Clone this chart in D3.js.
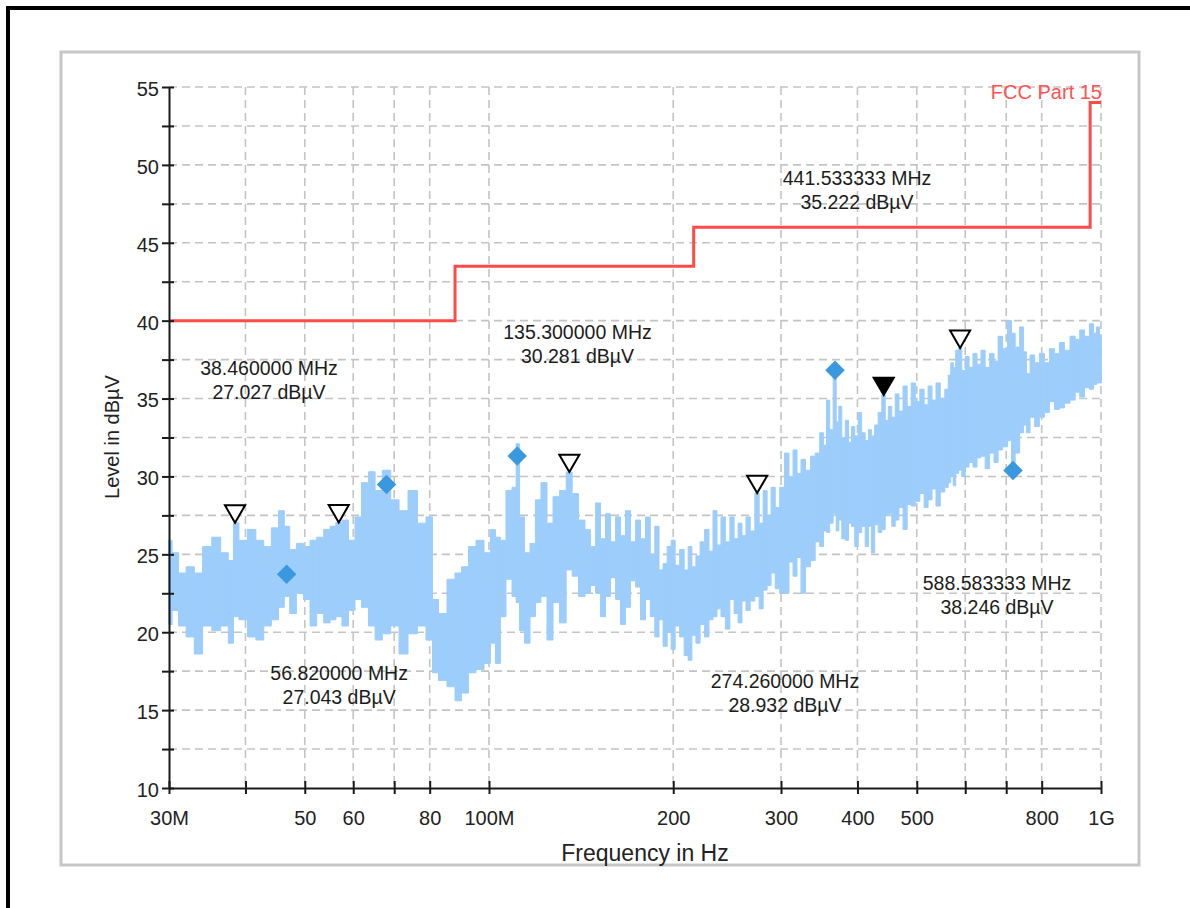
<!DOCTYPE html>
<html><head><meta charset="utf-8">
<script src="https://cdn.jsdelivr.net/npm/d3@7"></script>
<style>html,body{margin:0;padding:0;background:#fff;overflow:hidden;} svg{display:block;}</style>
</head><body>
<svg id="chart" width="1190" height="908"></svg>
<script>
// ---- data ----
const specFreqMHz = [30.0,30.7,31.5,32.5,33.5,34.6,35.9,37.0,38.0,38.46,39.6,41.0,42.2,43.5,44.7,45.9,46.7,47.8,49.1,50.4,51.6,53.0,54.4,55.6,56.82,58.2,59.7,61.1,62.7,64.4,65.9,68.0,70.2,72.4,75.1,77.7,80.1,81.6,83.8,87.0,89.0,91.4,93.8,96.7,99.6,101.5,103.4,105.4,107.8,110.3,111.2,113.2,115.4,118.0,120.2,123.0,125.8,128.7,132.1,135.3,138.2,141.9,145.1,148,150.7,153.5,156.5,159.5,162.5,165.5,168.7,172,175.2,178.5,181.9,185,188.2,191,194.0,197,199.9,203,206.8,210,213.1,216,219.6,223,227.1,230.5,234.1,237.5,241.2,245.5,249.5,253.5,257.1,261,265.0,269.5,274.26,278.5,282.5,287,291.1,296,301.1,306.8,311.5,316.3,321,325.9,332,338.4,344,350.2,354,358.1,362.5,367.6,371,374.7,379.5,384.6,389,393.4,398.5,403.8,409,414.6,419,424.0,429.5,435.3,441.53,446.5,452.2,458,464.2,471,478.6,486,493.2,501.5,510.1,518,525.6,533.5,541.6,551,560.2,565.5,570.9,576,581.8,588.58,596,604.2,613,622.5,632,641.4,652,663.5,674,684.0,697,710.0,718.2,730,742.8,751,759.7,772,786.1,800,816.3,831,847.4,863,880.1,900.0,915,931.2,948,966.8,978,988.9,1000];
const specHi = [25.9,25.1,23.8,24.2,23.8,25.5,26.1,25.1,24.6,27.03,25.9,26.6,25.9,25.5,26.7,27.8,26.8,25.3,25.7,25.5,25.9,26.1,26.6,26.8,27.04,27.2,25.9,27.4,29.6,30.3,29.1,30.4,28.5,27.8,29.1,27.0,27.4,22.1,21.2,23.4,23.8,24.2,25.5,25.9,25.1,26.6,26.1,25.9,29.1,29.3,32.1,27.4,25.1,25.7,28.5,29.6,27.0,28.7,29.1,30.28,28.9,27.2,26.6,25.5,28.3,26.0,27.6,25.8,27.4,26.2,27.8,25.8,27.2,26.0,27.4,25.0,26.8,24.0,24.4,25.5,25.9,24.3,25.3,24.0,25.5,24.2,24.9,25.8,26.6,25.2,27.8,25.6,27.4,25.8,27.4,26.0,27.0,26.2,27.4,26.5,28.93,27.0,29.1,27.5,29.3,28.0,29.3,31.5,30.0,31.7,30.2,31.1,30.4,31.3,31.5,32.8,32.0,34.9,33.0,36.8,33.5,34.5,32.5,33.6,32.2,33.2,32.6,34.1,32.8,32.3,33.0,32.6,33.3,34.1,35.22,33.6,34.5,33.8,35.3,34.2,35.8,34.5,36.0,34.8,35.6,34.6,35.8,34.9,36.0,35.0,35.6,36.5,37.3,37.0,38.1,38.25,36.8,37.7,37.0,37.9,37.2,38.1,37.0,37.9,37.4,39.0,38.2,40.0,39.2,38.3,39.6,38.0,36.6,37.8,37.3,37.9,37.3,38.2,37.9,38.6,38.1,39.0,38.8,39.4,39.0,39.8,39.2,39.6,39.0];
const specLo = [20.5,21.4,20.4,19.7,18.6,20.4,20.1,20.4,19.3,21.0,20.8,19.7,19.5,20.4,20.8,21.6,22.3,21.2,22.5,22.1,20.4,21.2,20.6,20.8,21.0,20.4,21.4,22.1,21.6,20.4,19.5,19.9,20.4,18.6,19.9,20.4,19.5,17.4,16.9,16.5,15.6,16.1,17.4,17.6,18.0,19.3,18.0,21.0,23.4,22.3,21.9,20.1,19.3,21.0,21.9,22.3,19.5,21.9,20.6,24.0,23.6,22.3,22.5,23.0,22.5,21.0,22.3,23.5,22.1,20.5,21.6,23.3,22.9,20.8,22.1,21.0,19.7,20.8,19.1,20.0,18.9,20.4,19.7,18.5,18.2,19.8,19.3,20.5,19.7,20.8,21.0,21.5,21.0,20.2,22.1,21.2,20.6,22.0,21.4,22.0,22.3,21.5,22.7,23.0,23.8,22.8,22.5,22.5,24.5,23.6,24.8,22.5,24.2,24.6,25.8,25.5,26.5,26.4,27.0,27.6,26.5,27.2,26.0,25.9,27.0,26.8,25.5,26.4,26.8,25.5,26.8,25.1,26.9,26.4,26.6,27.5,27.6,26.8,27.2,28.0,26.6,28.2,28.1,28.4,28.9,28.0,28.5,29.2,28.1,29.0,29.3,29.6,30.0,29.4,30.2,30.4,30.0,30.6,30.9,30.6,31.2,31.3,30.5,31.5,30.9,31.7,31.9,32.3,30.8,31.5,32.8,33.3,32.8,33.8,33.2,33.8,34.1,34.8,34.3,34.4,34.7,34.9,35.4,35.1,35.7,35.6,35.9,36.0,36.0];

const limitFreqMHz = [30, 88, 216, 960, 1000];
const limitLevel   = [40, 43.5, 46, 54, 54];
const limitName = "FCC Part 15";

const peakFreqMHz = [38.46, 56.82, 135.3, 274.26, 441.533333, 588.583333];
const peakLevel   = [27.027, 27.043, 30.281, 28.932, 35.222, 38.246];
const peakSelected = [false, false, false, false, true, false];
// label anchor (centre of text, baseline of first line) in data units
const labelFreqMHz = [43.7, 56.9, 139.5, 304.5, 399.3, 676.3];
const labelLevel   = [36.52, 16.94, 38.83, 16.43, 48.71, 22.72];

const qpFreqMHz = [46.7, 68.0, 111.2, 367.6, 718.2];
const qpLevel   = [23.72, 29.49, 31.31, 36.82, 30.38];

const xTickMHz    = [30, 40, 50, 60, 70, 80, 100, 200, 300, 400, 500, 600, 700, 800, 1000];
const xTickLabels = ["30M", "", "50", "60", "", "80", "100M", "200", "300", "400", "500", "", "", "800", "1G"];
const yTicks      = [10, 12.5, 15, 17.5, 20, 22.5, 25, 27.5, 30, 32.5, 35, 37.5, 40, 42.5, 45, 47.5, 50, 52.5, 55];
const yTickLabels = ["10", "", "15", "", "20", "", "25", "", "30", "", "35", "", "40", "", "45", "", "50", "", "55"];

const xTitle = "Frequency in Hz";
const yTitle = "Level in dBµV";

// ---- drawing ----
const svg = d3.select("#chart");
const FONT = "'Liberation Sans', Arial, sans-serif";
const x = d3.scaleLog().domain([30e6, 1e9]).range([169, 1101]);
const y = d3.scaleLinear().domain([10, 55]).range([788, 87]);

// outer frames
svg.append("rect").attr("x", 8).attr("y", 8).attr("width", 1200).attr("height", 920)
  .attr("fill", "#fff").attr("stroke", "#000").attr("stroke-width", 4);
svg.append("rect").attr("x", 61).attr("y", 52).attr("width", 1078).attr("height", 813)
  .attr("fill", "#fff").attr("stroke", "#c6c6c6").attr("stroke-width", 3);

// grid
const grid = svg.append("g").attr("stroke", "#c4c4c4").attr("stroke-width", 1.6).attr("stroke-dasharray", "8,5");
grid.selectAll("line.h").data(yTicks.filter(v => v > 10)).join("line").attr("class", "h")
  .attr("x1", x(30e6)).attr("x2", x(1e9)).attr("y1", d => y(d)).attr("y2", d => y(d));
grid.selectAll("line.v").data(xTickMHz.filter(v => v > 30)).join("line").attr("class", "v")
  .attr("x1", d => x(d * 1e6)).attr("x2", d => x(d * 1e6)).attr("y1", y(55)).attr("y2", y(10));

// spectrum
const SPEC = "#9dcdfb";
const spec = specFreqMHz.map((f, i) => ({ f: f * 1e6, hi: specHi[i], lo: specLo[i] }));
svg.append("path").datum(spec)
  .attr("d", d3.area().x(d => x(d.f)).y0(d => y(d.lo)).y1(d => y(d.hi)).curve(d3.curveStep))
  .attr("fill", SPEC).attr("stroke", SPEC).attr("stroke-width", 1);
svg.append("g").attr("stroke", SPEC).attr("stroke-width", 1.5)
  .selectAll("line").data(spec).join("line")
  .attr("x1", d => x(d.f)).attr("x2", d => x(d.f)).attr("y1", d => y(d.lo)).attr("y2", d => y(d.hi));

// limit line
const lim = limitFreqMHz.map((f, i) => ({ f: f * 1e6, v: limitLevel[i] }));
svg.append("path").datum(lim)
  .attr("d", d3.line().x(d => x(d.f)).y(d => y(d.v)).curve(d3.curveStepAfter))
  .attr("fill", "none").attr("stroke", "#ff4a4a").attr("stroke-width", 3);
svg.append("text").attr("x", x(1e9) + 1).attr("y", y(limitLevel[3]) - 4)
  .attr("text-anchor", "end").attr("font-family", FONT).attr("font-size", 20)
  .attr("fill", "#ff5252").text(limitName);

// axes
const yAxis = svg.append("g").attr("transform", `translate(${x(30e6)},0)`)
  .call(d3.axisLeft(y).tickValues(yTicks).tickFormat((d, i) => yTickLabels[i]).tickSize(7).tickSizeOuter(0).tickPadding(3));
yAxis.selectAll(".tick line").attr("x1", 5).attr("stroke", "#1a1a1a").attr("stroke-width", 2);
yAxis.select(".domain").attr("stroke", "#1a1a1a").attr("stroke-width", 2);
yAxis.selectAll(".tick text").attr("font-family", FONT).attr("font-size", 20).attr("fill", "#222").attr("dy", "0.42em");

const xAxis = svg.append("g").attr("transform", `translate(0,${y(10)})`)
  .call(d3.axisBottom(x).tickValues(xTickMHz.map(v => v * 1e6)).tickFormat((d, i) => xTickLabels[i]).tickSize(6).tickSizeOuter(0).tickPadding(17));
xAxis.selectAll(".tick line").attr("y1", -7).attr("stroke", "#1a1a1a").attr("stroke-width", 2);
xAxis.select(".domain").attr("stroke", "#1a1a1a").attr("stroke-width", 2);
xAxis.selectAll(".tick text").attr("font-family", FONT).attr("font-size", 20).attr("fill", "#222");

// axis titles
svg.append("text").attr("transform", "translate(119,437) rotate(-90)").attr("text-anchor", "middle")
  .attr("font-family", FONT).attr("font-size", 20).attr("fill", "#222").text(yTitle);
svg.append("text").attr("x", 645).attr("y", 861).attr("text-anchor", "middle")
  .attr("font-family", FONT).attr("font-size", 23).attr("fill", "#222").text(xTitle);

// quasi-peak diamonds
svg.append("g").selectAll("path").data(qpFreqMHz).join("path")
  .attr("d", d3.symbol(d3.symbolSquare, 190)())
  .attr("transform", (d, i) => `translate(${x(d * 1e6)},${y(qpLevel[i])}) rotate(45)`)
  .attr("fill", "#3a98de");

// peak triangles (tip at value)
const triSize = 175;
const triR = Math.sqrt(triSize / (Math.sqrt(3) * 3));
svg.append("g").selectAll("path").data(peakFreqMHz).join("path")
  .attr("d", d3.symbol(d3.symbolTriangle, triSize)())
  .attr("transform", (d, i) => `translate(${x(d * 1e6)},${y(peakLevel[i]) - 2 * triR}) rotate(180)`)
  .attr("fill", (d, i) => peakSelected[i] ? "#000" : "#fff")
  .attr("stroke", "#000").attr("stroke-width", 2).attr("stroke-linejoin", "miter");

// peak labels
const lab = svg.append("g").attr("font-family", FONT).attr("font-size", 19.5).attr("fill", "#1c1c1c").attr("text-anchor", "middle");
peakFreqMHz.forEach((f, i) => {
  const t = lab.append("text").attr("x", x(labelFreqMHz[i] * 1e6)).attr("y", y(labelLevel[i]));
  t.append("tspan").attr("x", x(labelFreqMHz[i] * 1e6)).text(`${f.toFixed(6)} MHz`);
  t.append("tspan").attr("x", x(labelFreqMHz[i] * 1e6)).attr("dy", 24).text(`${peakLevel[i].toFixed(3)} dBµV`);
});
</script>
</body></html>
